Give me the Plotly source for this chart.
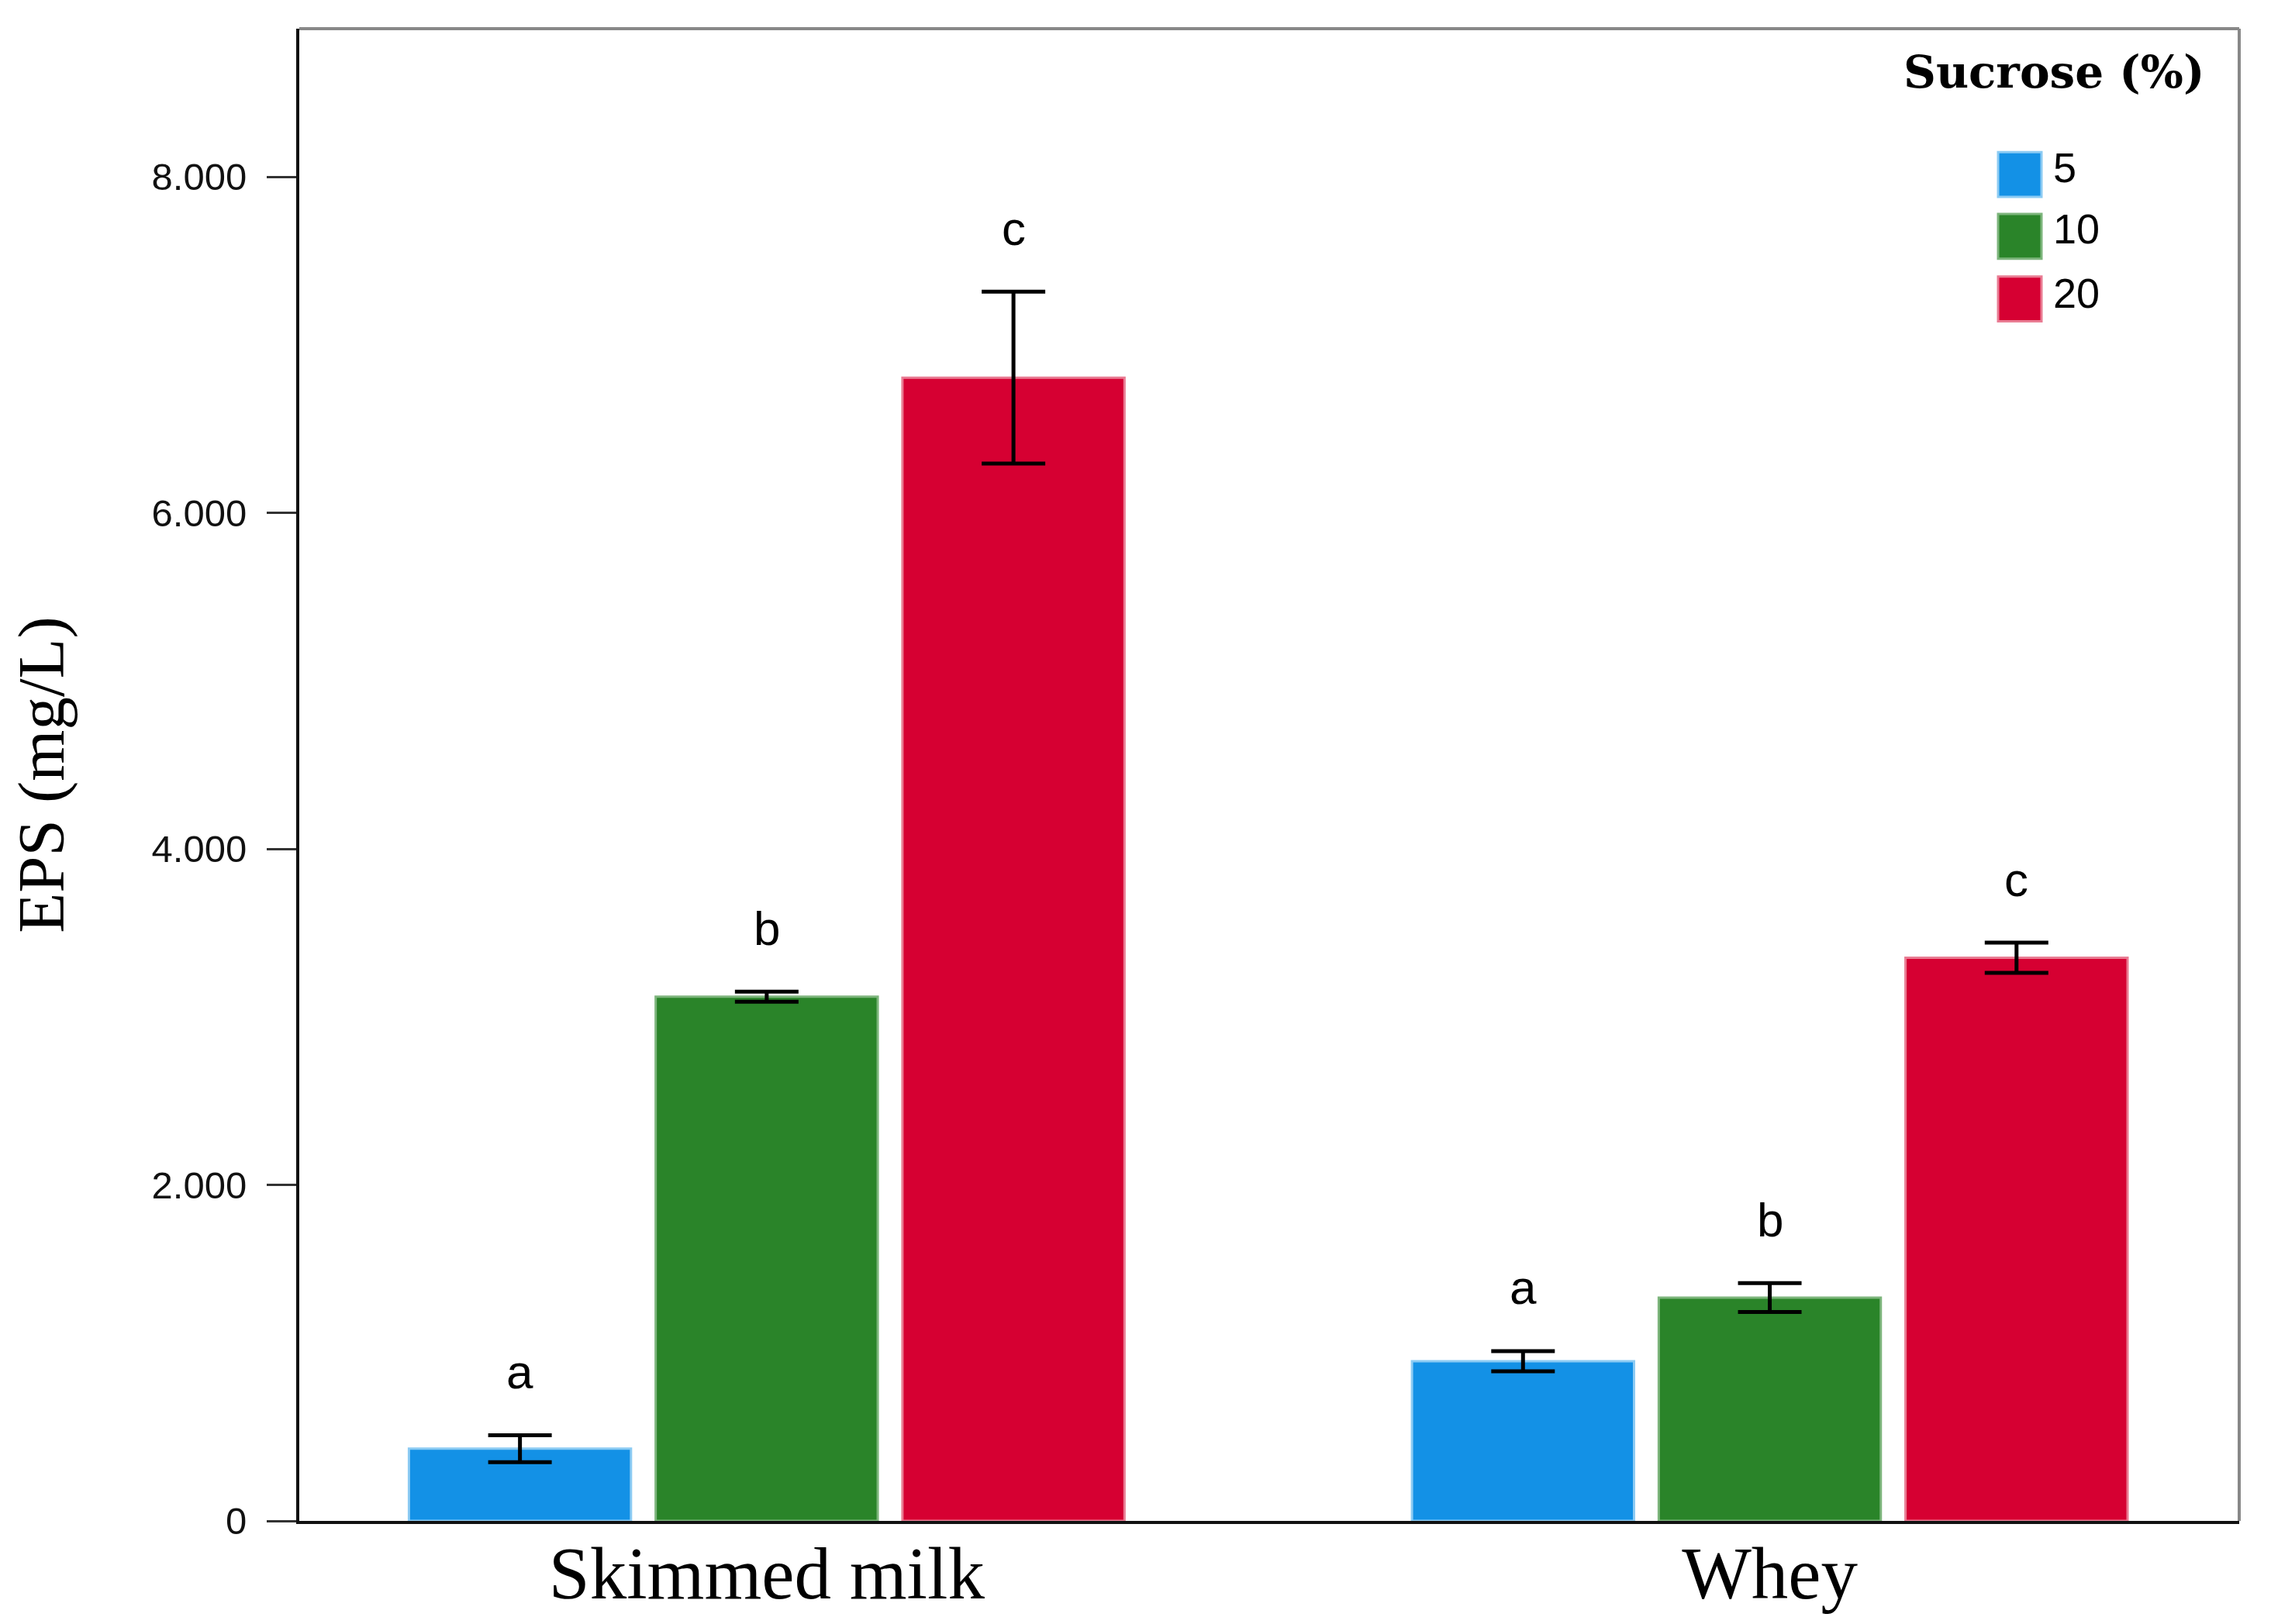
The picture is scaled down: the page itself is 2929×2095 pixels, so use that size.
import plotly.graph_objects as go

# ---- data ----
media = ["Skimmed milk", "Whey"]
sucrose_levels = ["5", "10", "20"]
eps_5 = [430, 951]
eps_10 = [3120, 1329]
eps_20 = [6805, 3352]
err_5 = [80, 60]
err_10 = [30, 86]
err_20 = [512, 90]
letters_5 = ["a", "a"]
letters_10 = ["b", "b"]
letters_20 = ["c", "c"]
y_ticks = [0, 2000, 4000, 6000, 8000]
y_tick_labels = ["0", "2.000", "4.000", "6.000", "8.000"]

colors = ["#1391E6", "#2A8429", "#D60032"]
edge_colors = ["#8CCBF3", "#7DB57C", "#E97C93"]

values = [eps_5, eps_10, eps_20]
errors = [err_5, err_10, err_20]
letters = [letters_5, letters_10, letters_20]

SANS_N = "Liberation Sans Narrow, Arial Narrow, Liberation Sans, Arial, sans-serif"
SERIF = "Liberation Serif, Times New Roman, serif"

fig = go.Figure()
for i, lvl in enumerate(sucrose_levels):
    fig.add_trace(go.Bar(
        name=lvl,
        x=media,
        y=values[i],
        marker=dict(color=colors[i], line=dict(color=edge_colors[i], width=3)),
        error_y=dict(type="data", array=errors[i], visible=True,
                     color="black", thickness=5, width=41),
        offsetgroup=str(i),
        showlegend=False,
    ))

W = 2929
H = 2095
ml, mr, mt, mb = 386, 41, 37, 125
plot_w = W - ml - mr
plot_h = H - mt - mb
x_range = [-0.466, 1.468]
bargap = 0.262
step = (1 - bargap) / 3

# significance letters, placed above the error bars via the axis scales
for i in range(3):
    for j, m in enumerate(media):
        fig.add_annotation(
            x=j + (i - 1) * step, xref="x",
            y=values[i][j] + errors[i][j], yref="y",
            text=letters[i][j], showarrow=False,
            yanchor="middle", yshift=82,
            font=dict(family=SANS_N, size=62, color="black"),
        )

# manual legend (large swatches)
def px_x(px):
    return (px - ml) / plot_w
def px_y(py):
    return (H - mb - py) / plot_h

fig.add_annotation(x=px_x(2649), y=px_y(93), xref="paper", yref="paper",
                   text="<b>Sucrose (%)</b>", showarrow=False,
                   xanchor="center", yanchor="middle",
                   font=dict(family="DejaVu Serif, serif", size=58, color="black"))
sw_tops = [197, 277, 358]
lab_centers = [217, 296, 379]
for i, lvl in enumerate(sucrose_levels):
    fig.add_shape(type="rect", xref="paper", yref="paper",
                  x0=px_x(2577), x1=px_x(2633),
                  y0=px_y(sw_tops[i] + 58), y1=px_y(sw_tops[i]),
                  fillcolor=colors[i], line=dict(color=edge_colors[i], width=3))
    fig.add_annotation(x=px_x(2646), y=px_y(lab_centers[i]), xref="paper", yref="paper",
                       text=lvl, showarrow=False, xanchor="left", yanchor="middle",
                       font=dict(family=SANS_N, size=54, color="black"))

# top / right frame in gray
fig.add_shape(type="line", xref="paper", yref="paper", x0=0, x1=1, y0=1, y1=1,
              line=dict(color="#888888", width=4))
fig.add_shape(type="line", xref="paper", yref="paper", x0=1, x1=1, y0=0, y1=1,
              line=dict(color="#888888", width=4))

fig.update_layout(
    width=W, height=H,
    margin=dict(l=ml, r=mr, t=mt, b=mb),
    paper_bgcolor="white", plot_bgcolor="white",
    barmode="group", bargap=bargap, bargroupgap=0.10,
    showlegend=False,
    xaxis=dict(
        type="category", range=x_range,
        showline=True, linecolor="#111111", linewidth=4,
        ticks="", showgrid=False, zeroline=False,
        ticklabelstandoff=-18,
        tickfont=dict(family=SERIF, size=95, color="black"),
    ),
    yaxis=dict(
        range=[0, 8882],
        tickvals=y_ticks, ticktext=y_tick_labels,
        showline=True, linecolor="#111111", linewidth=4,
        ticks="outside", ticklen=38, tickwidth=3, tickcolor="#333333",
        ticklabelstandoff=16,
        showgrid=False, zeroline=False,
        tickfont=dict(family=SANS_N, size=49, color="#111111"),
        title=dict(text="EPS (mg/L)", standoff=86,
                   font=dict(family=SERIF, size=85, color="black")),
    ),
)

fig.write_html("out.html", config={"displayModeBar": False},
               post_script="document.body.style.margin='0px';")
